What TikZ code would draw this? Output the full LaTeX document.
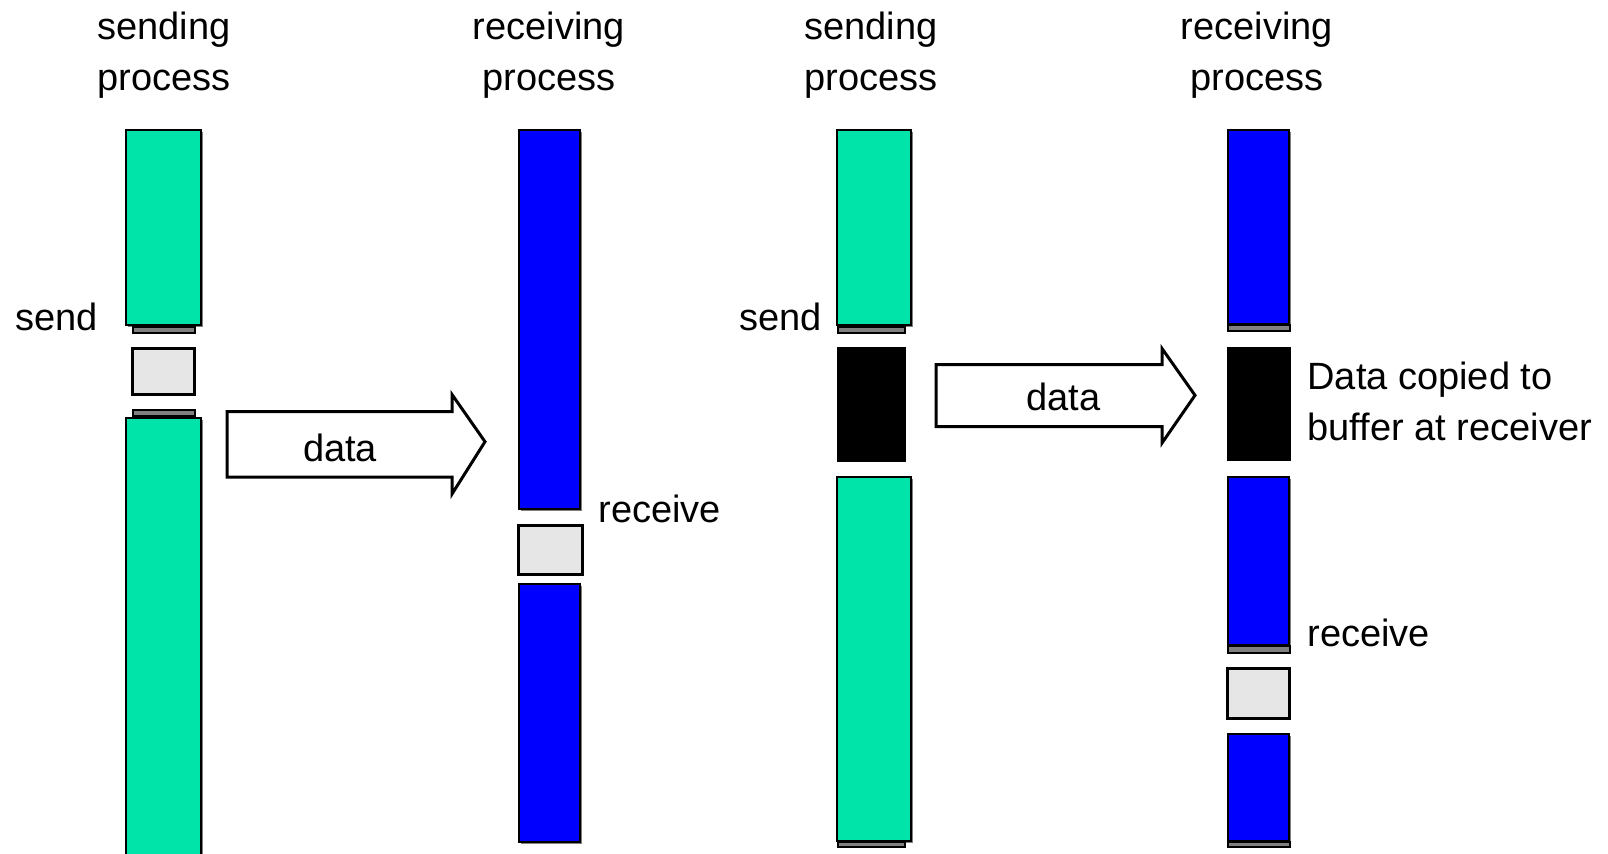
\documentclass[tikz,border=0pt]{standalone}
\usepackage{fontspec}
\setmainfont{Liberation Sans}
\usetikzlibrary{shadows}

\definecolor{sendgreen}{RGB}{0,228,170}
\definecolor{recvblue}{RGB}{0,0,255}
\definecolor{idlegray}{RGB}{230,230,230}
\definecolor{markgray}{RGB}{128,128,128}

\tikzset{every picture/.style={line width=0.75pt}}
\tikzset{
  txt/.style={inner sep=0pt, font=\fontsize{28.5}{38.25}\selectfont},
  headtxt/.style={txt, align=center, anchor=base},
  runbar/.style={draw=black, line width=1.5pt,
    drop shadow={shadow xshift=1.5pt, shadow yshift=-1.5pt, fill=markgray, opacity=1}},
  sendbar/.style={runbar, fill=sendgreen},
  recvbar/.style={runbar, fill=recvblue},
  markstrip/.style={draw=black, line width=1.5pt, fill=markgray},
  idlebox/.style={draw=black, line width=2.25pt, fill=idlegray},
  copybox/.style={draw=black, line width=1.5pt, fill=black},
  dataarrow/.style={draw=black, line width=2.25pt, fill=white, line join=miter}
}

\begin{document}
\begin{tikzpicture}[x=0.75pt,y=0.75pt,yscale=-1,xscale=1]
	\useasboundingbox (0,0) rectangle (1608,853);
	\clip (0,0) rectangle (1608,853);

	% first case: receiver blocks
	%Shape: Rectangle [sending process 1]
	\draw [sendbar] (126,130) rectangle (201,325) ;
	\draw [markstrip] (132.5,326.5) rectangle (194.5,332.5) ;
	\draw [idlebox] (132.5,348.5) rectangle (194.5,394.5) ;
	\draw [markstrip] (132.5,410) rectangle (194.5,416) ;
	\draw [sendbar] (126,418) rectangle (201,870) ;

	%Shape: Rectangle [receiving process 1]
	\draw [recvbar] (519,130) rectangle (580,509) ;
	\draw [idlebox] (518,525.5) rectangle (582.5,574) ;
	\draw [recvbar] (519,584) rectangle (580,842) ;

	%Shape: Arrow [data 1]
	\draw [dataarrow] (227,411.5) -- (452,411.5) -- (452,394.5) -- (485,441.7) -- (452,494) -- (452,477) -- (227,477) -- cycle ;

	% second case: buffered send
	%Shape: Rectangle [sending process 2]
	\draw [sendbar] (837,130) rectangle (911,325) ;
	\draw [markstrip] (837.5,326.5) rectangle (905,332.5) ;
	\draw [copybox] (837.5,347.5) rectangle (905,461) ;
	\draw [sendbar] (837,476.5) rectangle (911,841) ;
	\draw [markstrip] (837.5,842) rectangle (905,846.5) ;

	%Shape: Rectangle [receiving process 2]
	\draw [recvbar] (1228,130) rectangle (1289,324) ;
	\draw [markstrip] (1227.5,324.5) rectangle (1289.5,330.5) ;
	\draw [copybox] (1228,348) rectangle (1289.5,460) ;
	\draw [recvbar] (1228,476.5) rectangle (1289,645) ;
	\draw [markstrip] (1227.5,645.5) rectangle (1289.5,652.5) ;
	\draw [idlebox] (1227.5,668.5) rectangle (1289.5,718.5) ;
	\draw [recvbar] (1228,734) rectangle (1289,841) ;
	\draw [markstrip] (1227.5,841.5) rectangle (1289.5,846.5) ;

	%Shape: Arrow [data 2]
	\draw [dataarrow] (936,364.5) -- (1162,364.5) -- (1162,348.5) -- (1195,395.3) -- (1162,443) -- (1162,426.5) -- (936,426.5) -- cycle ;

	% Text Node
	\node [headtxt] (sendhead1) at (164,90) {sending\\process};
	% Text Node
	\node [headtxt] (recvhead1) at (549,90) {receiving\\process};
	% Text Node
	\node [headtxt] (sendhead2) at (871,90) {sending\\process};
	% Text Node
	\node [headtxt] (recvhead2) at (1257,90) {receiving\\process};
	% Text Node
	\node [txt, anchor=base east] (send1) at (98,330) {send};
	% Text Node
	\node [txt, anchor=base west] (recv1) at (598,522) {receive};
	% Text Node
	\node [txt, anchor=base] (data1) at (340,461.5) {data};
	% Text Node
	\node [txt, anchor=base east] (send2) at (822,330) {send};
	% Text Node
	\node [txt, anchor=base] (data2) at (1063.5,410.5) {data};
	% Text Node
	\node [txt, anchor=base west, align=left] (copied) at (1307,440) {Data copied to\\buffer at receiver};
	% Text Node
	\node [txt, anchor=base west] (recv2) at (1307,646) {receive};

\end{tikzpicture}
\end{document}
